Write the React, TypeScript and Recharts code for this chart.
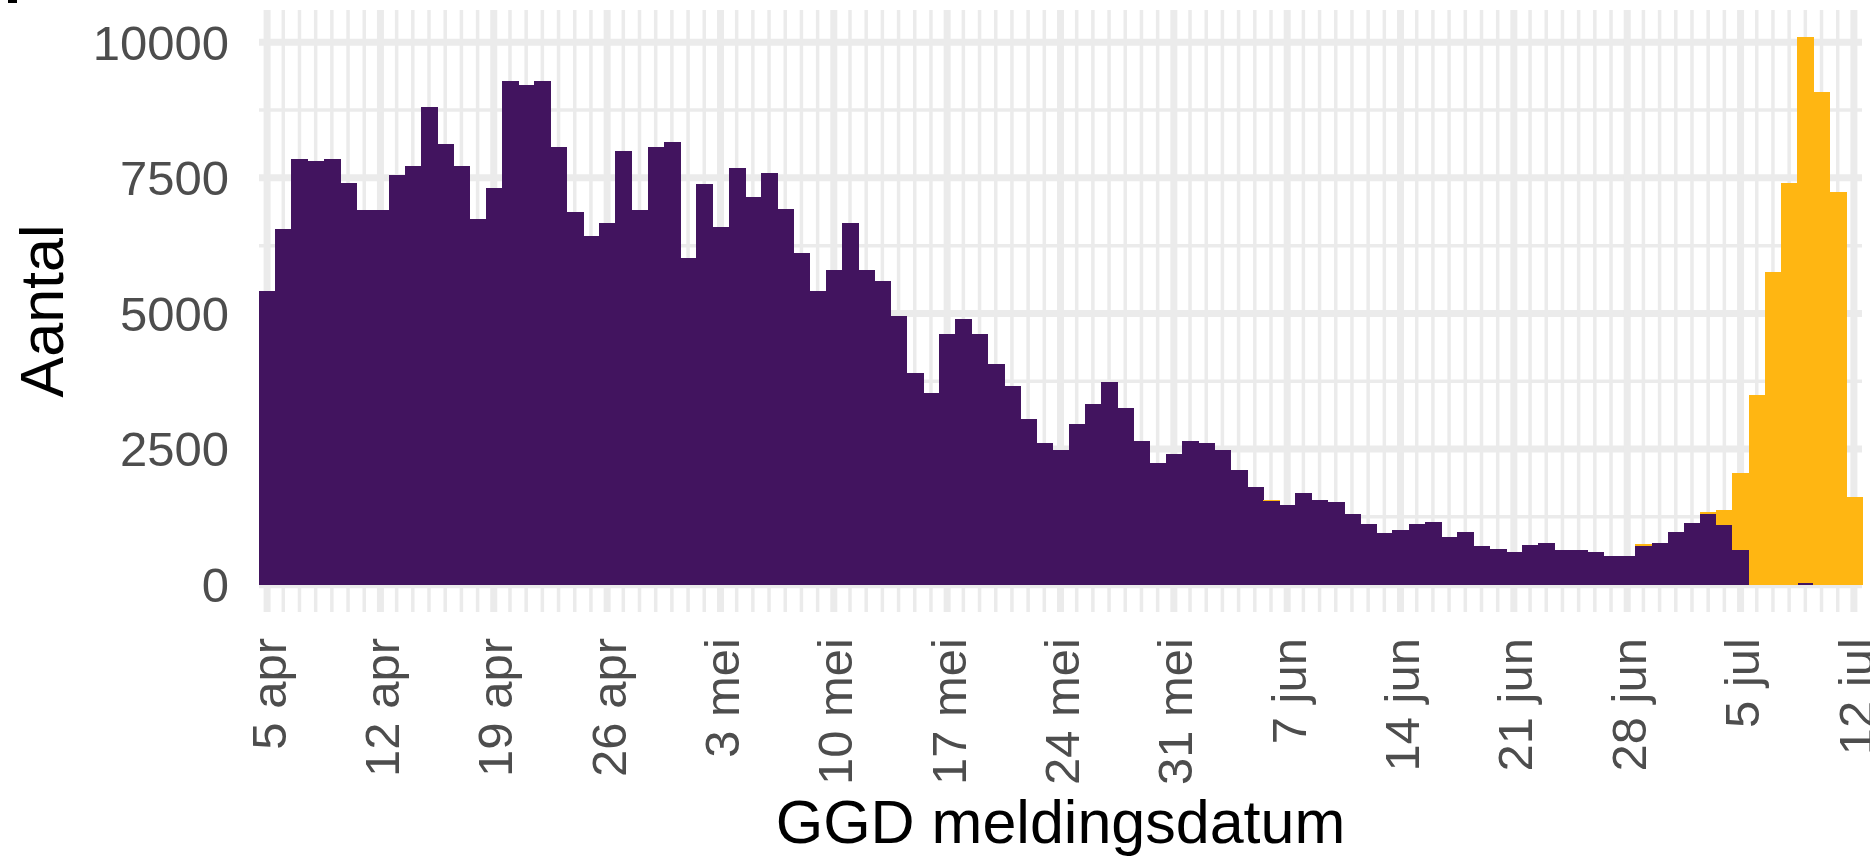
import { BarChart, Bar, XAxis, YAxis, CartesianGrid } from "recharts";

const FONT = "'Liberation Sans', Arial, sans-serif";
const PURPLE = "#42145F";
const ORANGE = "#FFB612";
const GRID = "#EBEBEB";

const MONTHS = ["jan", "feb", "mrt", "apr", "mei", "jun", "jul", "aug", "sep", "okt", "nov", "dec"];
const FIRST_DAY = Date.UTC(2021, 3, 5);

// daily counts, 5 apr .. 12 jul (one row per week)
const purpleCounts = [
  5408, 6563, 7852, 7817, 7852, 7408, 6908,
  6908, 7549, 7718, 8803, 8127, 7718, 6732,
  7310, 9282, 9211, 9282, 8070, 6866, 6423,
  6669, 7986, 6908, 8070, 8155, 6014, 7380,
  6592, 7683, 7141, 7585, 6930, 6120, 5408,
  5810, 6662, 5810, 5606, 4958, 3908, 3535,
  4620, 4894, 4620, 4077, 3662, 3056, 2613,
  2479, 2958, 3331, 3739, 3261, 2648, 2239,
  2408, 2648, 2613, 2479, 2106, 1796, 1535,
  1465, 1690, 1563, 1521, 1296, 1120, 944,
  1007, 1113, 1148, 880, 979, 704, 648,
  606, 739, 775, 634, 634, 606, 535,
  535, 705, 770, 970, 1145, 1310, 1108,
  633, 0, 0, 0, 30, 0, 0,
  0,
];

const orangeCounts = [
  0, 0, 0, 0, 0, 0, 0,
  0, 0, 0, 0, 0, 0, 0,
  0, 0, 0, 0, 0, 0, 0,
  0, 0, 0, 0, 0, 0, 0,
  0, 0, 0, 0, 0, 0, 0,
  0, 0, 0, 0, 0, 0, 0,
  0, 0, 0, 0, 0, 0, 0,
  0, 0, 0, 0, 0, 0, 0,
  0, 0, 0, 0, 0, 0, 28,
  0, 0, 0, 0, 0, 0, 0,
  0, 0, 0, 0, 0, 0, 0,
  0, 0, 0, 0, 0, 0, 0,
  0, 35, 0, 0, 0, 36, 272,
  1433, 3497, 5772, 7405, 10060, 9075, 7238,
  1617,
];

const yTicks = [0, 2500, 5000, 7500, 10000];
const yMinorTicks = [1250, 3750, 6250, 8750];

const dateLabels = purpleCounts.map((_, i) => {
  const d = new Date(FIRST_DAY + i * 86400000);
  return `${d.getUTCDate()} ${MONTHS[d.getUTCMonth()]}`;
});

const data = dateLabels.map((date, i) => ({
  date,
  purple: purpleCounts[i],
  orange: orangeCounts[i],
}));

// ggplot-style 5% expansion of the y range
const maxTotal = Math.max(...data.map((d) => d.purple + d.orange));
const pad = maxTotal * 0.05;
const yDomain = [-pad, maxTotal + pad];

// recharts floors the bar width, so widen each bar a bit to close the seams
function SolidBar({ x, y, width, height, fill }: any) {
  if (!height || height <= 0) return null;
  return <rect x={x} y={y} width={width + 1} height={height} fill={fill} shapeRendering="crispEdges" />;
}

function DateTick({ x, y, payload }: any) {
  return (
    <text
      transform={`translate(${x},${y}) rotate(-90)`}
      textAnchor="end"
      dy="0.38em"
      fill="#4D4D4D"
      fontSize={49}
      fontFamily={FONT}
    >
      {payload.value}
    </text>
  );
}

function YTitle({ viewBox }: any) {
  const { x, y, height } = viewBox;
  return (
    <text
      transform={`translate(${x + 63},${y + height / 2}) rotate(-90)`}
      textAnchor="middle"
      fill="#000"
      fontSize={61}
      fontFamily={FONT}
    >
      Aantal
    </text>
  );
}

function XTitle({ viewBox }: any) {
  const { x, y, width } = viewBox;
  return (
    <text x={x + width / 2} y={y + 231} textAnchor="middle" fill="#000" fontSize={61} fontFamily={FONT}>
      GGD meldingsdatum
    </text>
  );
}

export default function App() {
  return (
    <div style={{ position: "absolute", left: 0, top: 0, width: 1870, height: 862, background: "#fff" }}>
      <div style={{ position: "absolute", left: 8, top: 0, width: 9, height: 3, background: "#000" }} />
      <BarChart
        width={1870}
        height={862}
        data={data}
        margin={{ top: 10, right: 8, bottom: 0, left: 0 }}
        barCategoryGap={0}
        barGap={0}
      >
        <CartesianGrid
          xAxisId="minor"
          yAxisId="minor"
          stroke={GRID}
          strokeWidth={3.5}
          syncWithTicks
        />
        <CartesianGrid stroke={GRID} strokeWidth={7} syncWithTicks />
        <XAxis xAxisId="minor" dataKey="date" interval={0} hide />
        <YAxis yAxisId="minor" type="number" domain={yDomain} ticks={yMinorTicks} allowDataOverflow hide />
        <XAxis
          dataKey="date"
          interval={6}
          height={250}
          axisLine={false}
          tickLine={false}
          tickSize={0}
          tickMargin={26}
          tick={<DateTick />}
          label={(props: any) => <XTitle {...props} />}
        />
        <YAxis
          type="number"
          domain={yDomain}
          ticks={yTicks}
          allowDataOverflow
          width={259}
          axisLine={false}
          tickLine={false}
          tickSize={0}
          tickMargin={30}
          tick={{ fill: "#4D4D4D", fontSize: 49, fontFamily: FONT }}
          label={(props: any) => <YTitle {...props} />}
        />
        <Bar dataKey="purple" stackId="a" fill={PURPLE} shape={<SolidBar />} isAnimationActive={false} />
        <Bar dataKey="orange" stackId="a" fill={ORANGE} shape={<SolidBar />} isAnimationActive={false} />
      </BarChart>
    </div>
  );
}
